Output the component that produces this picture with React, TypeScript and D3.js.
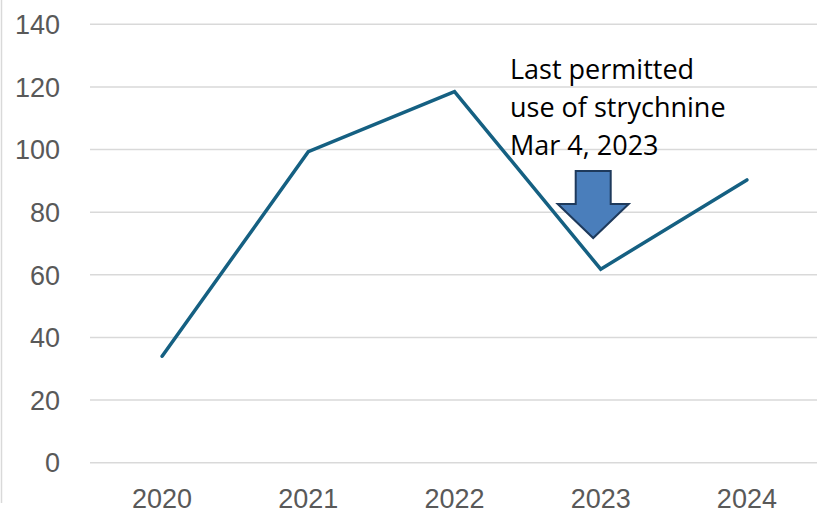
import React from "react";
import * as d3 from "d3";

const years = ["2020", "2021", "2022", "2023", "2024"];
const values = [34, 99.3, 118.5, 61.8, 90.3];
const yTicks = [0, 20, 40, 60, 80, 100, 120, 140];
const annotationLines = ["Last permitted", "use of strychnine", "Mar 4, 2023"];
const annotationYear = "2023";

const W = 817;
const H = 514;

export default function App() {
  const x = d3.scaleBand().domain(years).range([89, 820]);
  const y = d3.scaleLinear().domain([0, 140]).range([462.7, 24.3]);
  const cx = (d: string) => (x(d) as number) + x.bandwidth() / 2;

  const line = d3
    .line<number>()
    .x((_, i) => cx(years[i]))
    .y((d) => y(d));

  // arrow geometry relative to annotation year
  const ax = cx(annotationYear) - 7.5;
  const bodyHalf = 17.5;
  const headHalf = 35.5;
  const top = 171;
  const neck = 204;
  const tip = 238;
  const arrowPath = d3.path();
  arrowPath.moveTo(ax - bodyHalf, top);
  arrowPath.lineTo(ax + bodyHalf, top);
  arrowPath.lineTo(ax + bodyHalf, neck);
  arrowPath.lineTo(ax + headHalf, neck);
  arrowPath.lineTo(ax, tip);
  arrowPath.lineTo(ax - headHalf, neck);
  arrowPath.lineTo(ax - bodyHalf, neck);
  arrowPath.closePath();

  return (
    <svg
      width={W}
      height={H}
      style={{ position: "absolute", left: 0, top: 0, background: "#fff" }}
    >
      <line x1={1.5} x2={1.5} y1={0} y2={503} stroke="#d9d9d9" strokeWidth={1.5} />
      {yTicks.map((t) => (
        <g key={t}>
          <line x1={90} x2={820} y1={y(t)} y2={y(t)} stroke="#d9d9d9" strokeWidth={1.5} />
          <text
            x={60}
            y={y(t)}
            dy="0.36em"
            textAnchor="end"
            fontFamily="'Liberation Sans', Arial, sans-serif"
            fontSize={27}
            fill="#595959"
          >
            {t}
          </text>
        </g>
      ))}
      {years.map((yr) => (
        <text
          key={yr}
          x={cx(yr)}
          y={508}
          textAnchor="middle"
          fontFamily="'Liberation Sans', Arial, sans-serif"
          fontSize={27}
          fill="#595959"
        >
          {yr}
        </text>
      ))}
      <path
        d={line(values) || ""}
        fill="none"
        stroke="#156082"
        strokeWidth={3.5}
        strokeLinejoin="miter"
        strokeLinecap="round"
      />
      <path d={arrowPath.toString()} fill="#4a7ebb" stroke="#1e3a5c" strokeWidth={2} strokeLinejoin="miter" />
      {annotationLines.map((l, i) => (
        <text
          key={l}
          x={510}
          y={79 + i * 38}
          fontFamily="'Open Sans', sans-serif"
          fontSize={27}
          fill="#000"
        >
          {l}
        </text>
      ))}
    </svg>
  );
}
